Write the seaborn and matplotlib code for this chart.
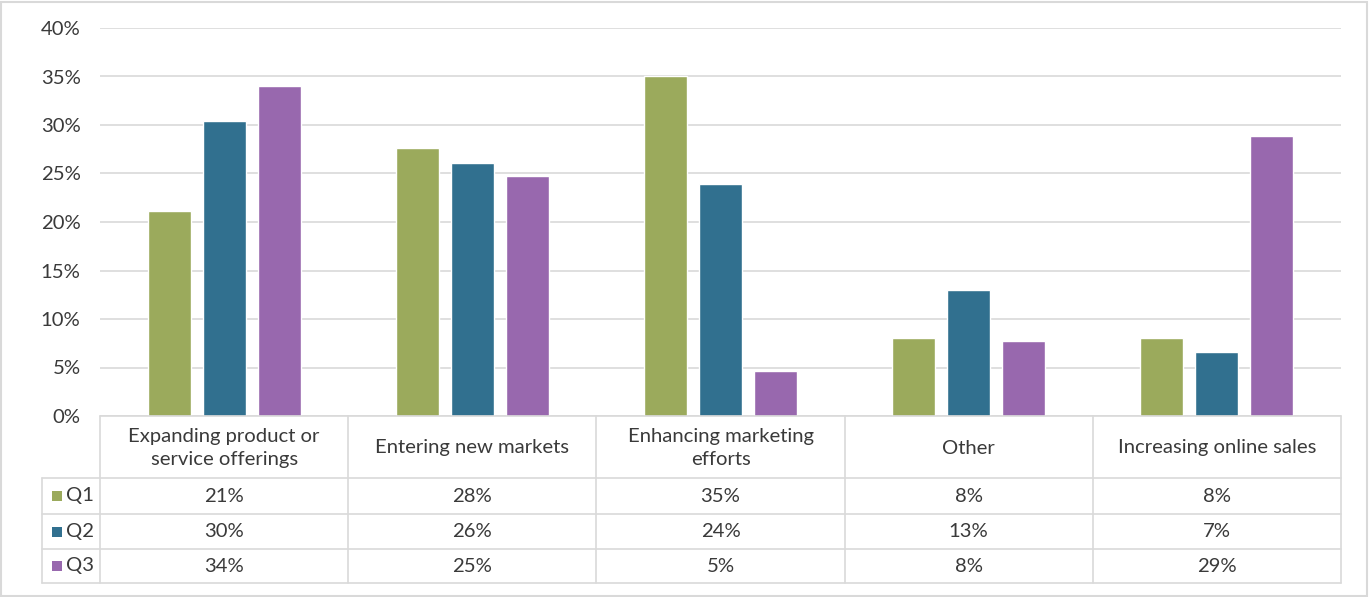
import matplotlib
matplotlib.use("Agg")
import matplotlib.pyplot as plt
import seaborn as sns
import pandas as pd
from matplotlib.patches import Rectangle
from matplotlib.ticker import FuncFormatter

# ── data ──────────────────────────────────────────────────────────────
categories = ["Expanding product or service offerings", "Entering new markets",
              "Enhancing marketing efforts", "Other", "Increasing online sales"]
header_labels = ["Expanding product or\nservice offerings", "Entering new markets",
                 "Enhancing marketing\nefforts", "Other", "Increasing online sales"]
series = ["Q1", "Q2", "Q3"]
q1 = [21.1, 27.6, 35.0, 8.0, 8.0]
q2 = [30.4, 26.1, 23.9, 13.0, 6.6]
q3 = [34.0, 24.7, 4.6, 7.7, 28.9]
y_ticks = [0, 5, 10, 15, 20, 25, 30, 35, 40]

colors = {"Q1": "#9BAA5C", "Q2": "#31708F", "Q3": "#9868AE"}
TXT = "#3A3A3A"
GRID = "#D9D9D9"
FONT = "Lato"
FS = 14.6

df = pd.DataFrame({
    "category": categories * 3,
    "series": [s for s in series for _ in categories],
    "value": q1 + q2 + q3,
})

sns.set_style("white")
plt.rcParams["font.family"] = [FONT, "DejaVu Sans"]

W, H = 1369, 597
fig = plt.figure(figsize=(W / 100, H / 100), dpi=100)
fig.patch.set_facecolor("white")

# outer frame
fig.add_artist(Rectangle((1 / W, 1 / H), 1 - 3 / W, 1 - 3 / H, transform=fig.transFigure,
                         fill=False, edgecolor=GRID, linewidth=1.5))

left, right = 100 / W, 1341 / W
ax = fig.add_axes([left, 1 - 416 / H, right - left, (416 - 28) / H])
sns.barplot(data=df, x="category", y="value", hue="series", order=categories,
            hue_order=series, palette=colors, width=0.665, gap=0.22,
            saturation=1, legend=False, ax=ax)

ax.set_xlim(-0.5, 4.5)
ax.set_ylim(0, 40)
ax.set_yticks(y_ticks)
ax.yaxis.set_major_formatter(FuncFormatter(lambda v, _: f"{v:.0f}%"))
ax.grid(axis="y", color=GRID, linewidth=1.2)
ax.set_axisbelow(True)
ax.set_xticks([])
ax.set_xlabel("")
ax.set_ylabel("")
for s in ax.spines.values():
    s.set_visible(False)
ax.tick_params(axis="y", length=0, pad=14, labelsize=FS, labelcolor=TXT)

# ── data table ────────────────────────────────────────────────────────
tax = fig.add_axes([left, 1 - 583 / H, right - left, (583 - 416) / H])
tax.set_xlim(-0.5, 4.5)
tax.set_ylim(0, 167)
tax.axis("off")

leg_x = -0.5 - 58 / 248.2
rows = [0, 34, 69, 105, 167]  # row boundaries, bottom to top
lw = dict(color=GRID, linewidth=1.2, clip_on=False)

# horizontal lines
tax.plot([-0.5, 4.5], [167, 167], **lw)
for yb in rows[:4]:
    tax.plot([leg_x, 4.5], [yb, yb], **lw)
# vertical lines
for xb in [-0.5, 0.5, 1.5, 2.5, 3.5, 4.5]:
    tax.plot([xb, xb], [0, 167], **lw)
tax.plot([leg_x, leg_x], [0, 105], **lw)

for i, lab in enumerate(header_labels):
    tax.text(i, 135, lab, ha="center", va="center", fontsize=FS, color=TXT,
             linespacing=1.45)

for r, (name, vals) in enumerate(zip(series, [q1, q2, q3])):
    yc = (rows[2 - r] + rows[3 - r]) / 2
    tax.scatter([leg_x + 15 / 248.2], [yc], marker="s", s=60, color=colors[name],
                clip_on=False, linewidths=0)
    tax.text(leg_x + 24 / 248.2, yc, name, ha="left", va="center", fontsize=FS,
             color=TXT)
    for i, v in enumerate(vals):
        tax.text(i, yc, f"{int(v + 0.5)}%", ha="center", va="center",
                 fontsize=FS, color=TXT)

fig.savefig("out.png", dpi=100, facecolor="white")
